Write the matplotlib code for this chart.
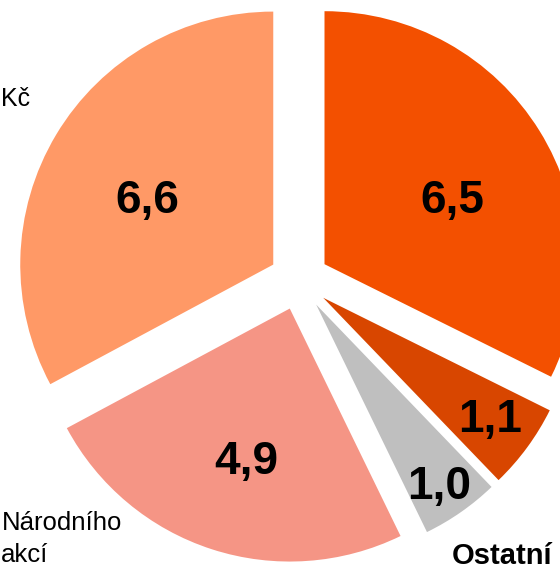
import numpy as np
import matplotlib.pyplot as plt

plt.rcParams['font.family'] = ['Liberation Sans', 'DejaVu Sans']

# slices, clockwise from 12 o'clock
values = [6.5, 1.1, 1.0, 4.9, 6.6]
value_labels = ['6,5', '1,1', '1,0', '4,9', '6,6']
colors = ['#F35000', '#D84600', '#BFBFBF', '#F59585', '#FF9966']

# where each value label sits inside its slice
label_dist = [0.564, 0.82, 0.87, 0.63, 0.557]
label_shift = [-5.6, 0.0, -1.0, 2.0, 3.9]

fig = plt.figure(figsize=(5.6, 5.72), dpi=100)
ax = fig.add_axes([0, 0, 1, 1])

wedges, _ = ax.pie(values, colors=colors, startangle=90, counterclock=False,
                   radius=253, center=(299, 292), explode=[30] * len(values),
                   wedgeprops=dict(linewidth=0), frame=False)

for w, txt, d, s in zip(wedges, value_labels, label_dist, label_shift):
    ang = np.deg2rad((w.theta1 + w.theta2) / 2 + s)
    cx, cy = w.center
    ax.text(cx + d * w.r * np.cos(ang), cy + d * w.r * np.sin(ang), txt,
            ha='center', va='center', fontsize=33, fontweight='bold', color='black')

# category labels (cut off at the edge of the picture)
ax.text(1, 473, 'Kč', ha='left', va='center', fontsize=18)
ax.text(2, 49, 'Národního', ha='left', va='center', fontsize=18.5)
ax.text(1, 17, 'akcí', ha='left', va='center', fontsize=18.5)
ax.text(452, 16, 'Ostatní', ha='left', va='center', fontsize=21, fontweight='bold')

ax.set_xlim(0, 560)
ax.set_ylim(0, 572)
ax.set_aspect('equal')
ax.axis('off')

fig.savefig('out.png', dpi=100)
